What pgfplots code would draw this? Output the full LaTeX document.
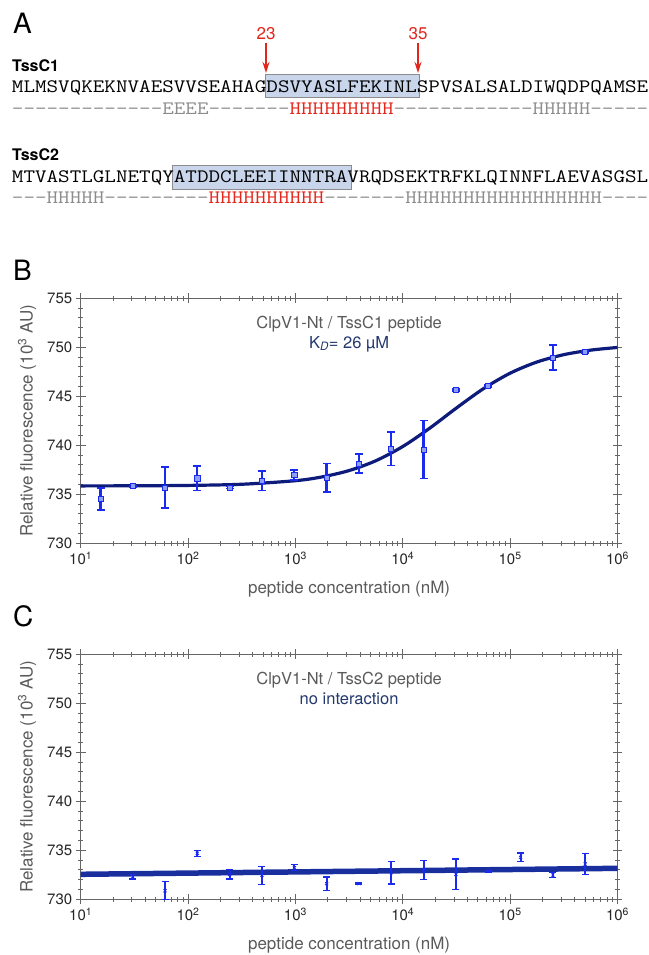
\documentclass[border=0pt]{standalone}
\usepackage{fontspec}
\setmainfont{TeX Gyre Heros}
\usepackage{pgfplots}
\pgfplotsset{compat=1.18}
\usetikzlibrary{arrows.meta}

\definecolor{axgray}{HTML}{666666}
\definecolor{txtgray}{HTML}{5A5A5A}
\definecolor{navy}{HTML}{0D1B7A}
\definecolor{barblue}{HTML}{1A2BEE}
\definecolor{mkfill}{HTML}{8F9EF5}
\definecolor{kdblue}{HTML}{22386E}
\definecolor{seqred}{HTML}{E3261B}
\definecolor{ssgray}{HTML}{8C8C8C}
\definecolor{boxblue}{HTML}{C8D5EB}
\definecolor{fitblue}{HTML}{1A2F9E}

% LM Mono at 19bp is 9.785bp per char; stretched to the 11.57 px pitch of the figure
\newcommand\seqfont{\fontsize{19bp}{22bp}\selectfont\ttfamily}
\tikzset{seq/.style={anchor=base west, inner sep=0, xscale=1.1824}}
\newcommand\xtl{10\textsuperscript{1},10\textsuperscript{2},10\textsuperscript{3},10\textsuperscript{4},10\textsuperscript{5},10\textsuperscript{6}}

\begin{document}
\begin{tikzpicture}
\useasboundingbox (0,0) rectangle (649bp,955bp);

% ---- panel A: sequences ----
\begin{scope}[x=1bp, y=-1bp, yshift=955bp]
  \filldraw[fill=boxblue, draw=ssgray, line width=0.8bp] (265,74) rectangle (419.3,97.7);
  \filldraw[fill=boxblue, draw=ssgray, line width=0.8bp] (172.3,165.7) rectangle (351.7,189.3);

  \node[anchor=base west, inner sep=0, font=\fontsize{28bp}{30bp}\selectfont] at (13,33.3) {A};
  \node[anchor=base west, inner sep=0, font=\fontsize{28bp}{30bp}\selectfont] at (13,281) {B};
  \node[anchor=base west, inner sep=0, font=\fontsize{28bp}{30bp}\selectfont] at (13,627) {C};

  \node[anchor=base west, inner sep=0, font=\fontsize{16bp}{18bp}\selectfont\bfseries] at (12,71.7) {TssC1};
  \node[anchor=base west, inner sep=0, font=\fontsize{16bp}{18bp}\selectfont\bfseries] at (12,161) {TssC2};

  \node[seq] at (11.7,92.7)
    {\seqfont MLMSVQKEKNVAESVVSEAHAGDSVYASLFEKINLSPVSALSALDIWQDPQAMSE};
  \node[seq] at (11.7,115)
    {\seqfont\color{ssgray}-------------EEEE-------\color{seqred}HHHHHHHHH\color{ssgray}------------HHHHH-----};
  \node[seq] at (11.7,182.7)
    {\seqfont MTVASTLGLNETQYATDDCLEEIINNTRAVRQDSEKTRFKLQINNFLAEVASGSL};
  \node[seq] at (11.7,204)
    {\seqfont\color{ssgray}---HHHHH---------\color{seqred}HHHHHHHHHH\color{ssgray}-------HHHHHHHHHHHHHHHHH----};

  \draw[seqred, line width=1.5bp, -{Stealth[length=11bp,width=7bp]}] (266,43) -- (266,73);
  \draw[seqred, line width=1.5bp, -{Stealth[length=11bp,width=7bp]}] (418,43) -- (418,73);
  \node[anchor=base, inner sep=0, text=seqred, font=\fontsize{17bp}{20bp}\selectfont] at (266,39.3) {23};
  \node[anchor=base, inner sep=0, text=seqred, font=\fontsize{17bp}{20bp}\selectfont] at (418,39.3) {35};
\end{scope}

% ---- panel B ----
\begin{axis}[
    at={(80.7bp,411.7bp)}, anchor=south west,
    scale only axis, width=536.8bp, height=245bp,
    xmode=log, xmin=10, xmax=1000000, ymin=730, ymax=755,
    xtick={10,100,1000,10000,100000,1000000},
    xticklabels/.expand once=\xtl,
    ytick={730,735,740,745,750,755},
    minor y tick num=4,
    tick align=center,
    major tick length=10bp, minor tick length=5bp,
    axis line style={axgray, line width=0.9bp},
    tick style={axgray, line width=0.9bp},
    tick label style={font=\fontsize{15bp}{18bp}\selectfont, text=black!85},
    /pgf/number format/assume math mode=true,
    xlabel={peptide concentration (nM)},
    ylabel={Relative fluorescence (10\textsuperscript{3} AU)},
    label style={font=\fontsize{17bp}{20bp}\selectfont, text=txtgray},
    xlabel style={at={(axis description cs:0.5,-0.204)}, anchor=base},
    ylabel style={at={(axis description cs:-0.1,0.5)}, anchor=center},
]
\addplot[navy, line width=3.2bp, smooth] coordinates {
  (10,735.856) (31.6,735.868) (100,735.906) (316,736.024) (1000,736.387)
  (1778,736.778) (3162,737.422) (5623,738.428) (10000,739.878) (17783,741.739)
  (31623,743.808) (56234,745.766) (100000,747.358) (177828,748.500)
  (316228,749.248) (562341,749.709) (1000000,749.983)};
\addplot[only marks, barblue, mark=square*, mark size=2.6bp,
         mark options={fill=mkfill, draw=barblue, line width=0.8bp},
         error bars/.cd, y dir=both, y explicit,
         error bar style={barblue, line width=2.3bp},
         error mark options={rotate=90, barblue, mark size=4bp, line width=1.5bp}]
  coordinates {
  (15.3,734.52) +- (0,1.14)
  (30.5,735.82) +- (0,0.1)
  (61,735.68) +- (0,2.1)
  (122,736.63) +- (0,1.26)
  (244,735.68) +- (0,0.1)
  (488,736.39) +- (0,1.0)
  (977,736.97) +- (0,0.5)
  (1953,736.67) +- (0,1.45)
  (3906,738.13) +- (0,0.97)
  (7812,739.66) +- (0,1.7)
  (15625,739.56) +- (0,2.96)
  (31250,745.65) +- (0,0.1)
  (62500,746.05) +- (0,0.1)
  (250000,748.95) +- (0,1.28)
  (500000,749.52) +- (0,0.1)};
\node[anchor=base, text=txtgray, font=\fontsize{16.5bp}{19bp}\selectfont] at (axis description cs:0.5,0.8775) {ClpV1-Nt / TssC1 peptide};
\node[anchor=base, text=kdblue, font=\fontsize{16.5bp}{19bp}\selectfont] at (axis description cs:0.5,0.796) {K\textsubscript{\textit{D}}= 26 µM};
\end{axis}

% ---- panel C ----
\begin{axis}[
    at={(80.7bp,55.7bp)}, anchor=south west,
    scale only axis, width=536.8bp, height=245bp,
    xmode=log, xmin=10, xmax=1000000, ymin=730, ymax=755,
    xtick={10,100,1000,10000,100000,1000000},
    xticklabels/.expand once=\xtl,
    ytick={730,735,740,745,750,755},
    minor y tick num=4,
    tick align=center,
    major tick length=10bp, minor tick length=5bp,
    axis line style={axgray, line width=0.9bp},
    tick style={axgray, line width=0.9bp},
    tick label style={font=\fontsize{15bp}{18bp}\selectfont, text=black!85},
    /pgf/number format/assume math mode=true,
    xlabel={peptide concentration (nM)},
    ylabel={Relative fluorescence (10\textsuperscript{3} AU)},
    label style={font=\fontsize{17bp}{20bp}\selectfont, text=txtgray},
    xlabel style={at={(axis description cs:0.5,-0.204)}, anchor=base},
    ylabel style={at={(axis description cs:-0.1,0.5)}, anchor=center},
]
\addplot[fitblue, line width=5.5bp] coordinates {(10,732.55) (1000000,733.16)};
\addplot[only marks, barblue, mark=x, mark size=2.2bp,
         mark options={barblue, line width=0.8bp},
         error bars/.cd, y dir=both, y explicit,
         error bar style={barblue, line width=2.1bp},
         error mark options={rotate=90, barblue, mark size=3.5bp, line width=1.3bp}]
  coordinates {
  (30.5,732.31) +- (0,0.24)
  (61,730.88) +- (0,0.95)
  (122,734.69) +- (0,0.32)
  (244,732.55) +- (0,0.48)
  (488,732.45) +- (0,0.93)
  (977,733.23) +- (0,0.29)
  (1953,731.6) +- (0,0.68)
  (3906,731.6) +- (0,0.05)
  (7812,732.72) +- (0,1.17)
  (15625,733.0) +- (0,0.98)
  (31250,732.55) +- (0,1.56)
  (62500,732.85) +- (0,0.05)
  (125000,734.28) +- (0,0.43)
  (250000,732.48) +- (0,0.24)
  (500000,733.6) +- (0,1.1)};
\node[anchor=base, text=txtgray, font=\fontsize{16.5bp}{19bp}\selectfont] at (axis description cs:0.5,0.8775) {ClpV1-Nt / TssC2 peptide};
\node[anchor=base, text=kdblue, font=\fontsize{16.5bp}{19bp}\selectfont] at (axis description cs:0.5,0.796) {no interaction};
\end{axis}
\end{tikzpicture}
\end{document}
